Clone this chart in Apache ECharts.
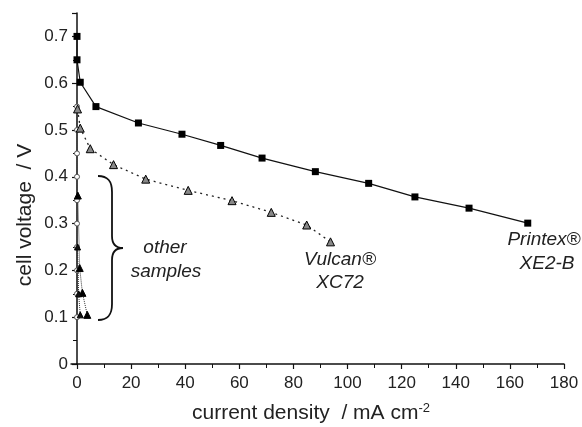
<!DOCTYPE html>
<html>
<head>
<meta charset="utf-8">
<script src="https://cdn.jsdelivr.net/npm/echarts@6/dist/echarts.min.js"></script>
<style>
  html, body { margin: 0; padding: 0; background: #fff; }
  #chart { width: 582px; height: 427px; }
</style>
</head>
<body>
<div id="chart"></div>
<script>
// Printex XE2-B (squares, solid line)
const printexX = [0, 0, 1.2, 7, 22.7, 38.8, 53.1, 68.4, 88.1, 107.8, 124.9, 144.9, 166.6];
const printexY = [0.70, 0.65, 0.602, 0.55, 0.515, 0.491, 0.467, 0.440, 0.411, 0.386, 0.357, 0.333, 0.301];
// Vulcan XC72 (triangles, dotted line)
const vulcanX = [0.2, 1.2, 4.9, 13.5, 25.4, 41.1, 57.3, 71.8, 84.9, 93.7];
const vulcanY = [0.545, 0.504, 0.46, 0.426, 0.395, 0.371, 0.349, 0.324, 0.297, 0.261];
// other samples, close to zero current
const otherAX = [0, 0, 0, 0, 0, 0, 0, 0, 0, 0];
const otherAY = [0.55, 0.5, 0.45, 0.40, 0.35, 0.30, 0.25, 0.20, 0.15, 0.10];
const otherBX = [0.3, 1.0, 2.0, 3.8];
const otherBY = [0.36, 0.205, 0.152, 0.105];
const otherCX = [0.2, 0.6, 1.2];
const otherCY = [0.25, 0.15, 0.105];
const xTicks = [0, 20, 40, 60, 80, 100, 120, 140, 160, 180];

const zip = (xs, ys) => xs.map((x, i) => [x, ys[i]]);

const chart = echarts.init(document.getElementById('chart'));
const font = 'Liberation Sans, Arial, sans-serif';
const noteStyle = { fontFamily: font, fontStyle: 'italic', fontSize: 19, fill: '#222',
                    textAlign: 'center', textVerticalAlign: 'middle' };
const braceStyle = { fill: 'none', stroke: '#111', lineWidth: 1.8 };

chart.setOption({
  animation: false,
  backgroundColor: '#fff',
  grid: { left: 77, right: 18, top: 13, bottom: 63 },
  xAxis: {
    type: 'value',
    min: xTicks[0],
    max: xTicks[xTicks.length - 1],
    interval: 20,
    axisLine: { onZero: false, lineStyle: { color: '#111', width: 1.5 } },
    axisTick: { length: 5, lineStyle: { color: '#111', width: 1.2 } },
    minorTick: { show: true, splitNumber: 2, length: 4, lineStyle: { color: '#111' } },
    splitLine: { show: false },
    axisLabel: { fontFamily: font, fontSize: 17, color: '#222', margin: 11 }
  },
  yAxis: {
    type: 'value',
    min: 0,
    max: 0.75,
    interval: 0.1,
    axisLine: { show: true, onZero: false, lineStyle: { color: '#111', width: 1.5 } },
    axisTick: { show: true, length: 5, lineStyle: { color: '#111', width: 1.2 } },
    minorTick: { show: true, splitNumber: 2, length: 4, lineStyle: { color: '#111' } },
    splitLine: { show: false },
    axisLabel: {
      fontFamily: font, fontSize: 17, color: '#222', margin: 9, showMaxLabel: false,
      formatter: v => (v === 0 ? '0' : v.toFixed(1))
    }
  },
  series: [
    {
      name: 'other A', type: 'line', data: zip(otherAX, otherAY),
      symbol: 'circle', symbolSize: 5,
      lineStyle: { color: '#333', width: 1, type: 'dotted' },
      itemStyle: { color: '#fff', borderColor: '#555', borderWidth: 1 }
    },
    {
      name: 'other B', type: 'line', data: zip(otherBX, otherBY),
      symbol: 'triangle', symbolSize: 7,
      lineStyle: { color: '#333', width: 1, type: 'dotted' },
      itemStyle: { color: '#000', borderColor: '#000', borderWidth: 1 }
    },
    {
      name: 'other C', type: 'line', data: zip(otherCX, otherCY),
      symbol: 'triangle', symbolSize: 6,
      lineStyle: { color: '#333', width: 1, type: 'dotted' },
      itemStyle: { color: '#111', borderColor: '#000', borderWidth: 1 }
    },
    {
      name: 'Vulcan XC72', type: 'line', data: zip(vulcanX, vulcanY),
      symbol: 'triangle', symbolSize: 8,
      lineStyle: { color: '#222', width: 1.3, type: [2, 4] },
      itemStyle: { color: '#888', borderColor: '#000', borderWidth: 1 }
    },
    {
      name: 'Printex XE2-B', type: 'line', data: zip(printexX, printexY),
      symbol: 'rect', symbolSize: 7,
      lineStyle: { color: '#111', width: 1.2 },
      itemStyle: { color: '#000' }
    }
  ],
  graphic: [
    {
      type: 'text', x: 25, y: 215, rotation: Math.PI / 2,
      style: { text: 'cell voltage  / V', fontFamily: font, fontSize: 21, fill: '#222',
               textAlign: 'center', textVerticalAlign: 'middle' }
    },
    {
      type: 'text', x: 192, y: 402,
      style: {
        text: '{a|current density  / mA}{a| cm}{s|-2}',
        rich: {
          a: { fontFamily: font, fontSize: 21, fill: '#222' },
          s: { fontFamily: font, fontSize: 13, fill: '#222', padding: [0, 0, 10, 0] }
        }
      }
    },
    { type: 'text', x: 165, y: 248, style: Object.assign({ text: 'other' }, noteStyle) },
    { type: 'text', x: 166, y: 272, style: Object.assign({ text: 'samples' }, noteStyle) },
    { type: 'text', x: 340, y: 260, style: Object.assign({ text: 'Vulcan®' }, noteStyle) },
    { type: 'text', x: 340, y: 283, style: Object.assign({ text: 'XC72' }, noteStyle) },
    { type: 'text', x: 544, y: 240, style: Object.assign({ text: 'Printex®' }, noteStyle) },
    { type: 'text', x: 547, y: 264, style: Object.assign({ text: 'XE2-B' }, noteStyle) },
    // x axis line runs a little past the y axis on the left
    { type: 'line', shape: { x1: 70.5, y1: 364, x2: 77, y2: 364 }, style: { stroke: '#111', lineWidth: 1.5 } },
    // curly brace grouping the other samples
    { type: 'bezierCurve', shape: { x1: 98, y1: 176, cpx1: 108, cpy1: 176, cpx2: 112, cpy2: 181, x2: 112, y2: 192 }, style: braceStyle },
    { type: 'line', shape: { x1: 112, y1: 192, x2: 112, y2: 236 }, style: braceStyle },
    { type: 'bezierCurve', shape: { x1: 112, y1: 236, cpx1: 112, cpy1: 244, cpx2: 116, cpy2: 248, x2: 123, y2: 248 }, style: braceStyle },
    { type: 'bezierCurve', shape: { x1: 123, y1: 248, cpx1: 116, cpy1: 248, cpx2: 112, cpy2: 252, x2: 112, y2: 260 }, style: braceStyle },
    { type: 'line', shape: { x1: 112, y1: 260, x2: 112, y2: 304 }, style: braceStyle },
    { type: 'bezierCurve', shape: { x1: 112, y1: 304, cpx1: 112, cpy1: 315, cpx2: 108, cpy2: 320, x2: 98, y2: 320 }, style: braceStyle }
  ]
});
</script>
</body>
</html>
